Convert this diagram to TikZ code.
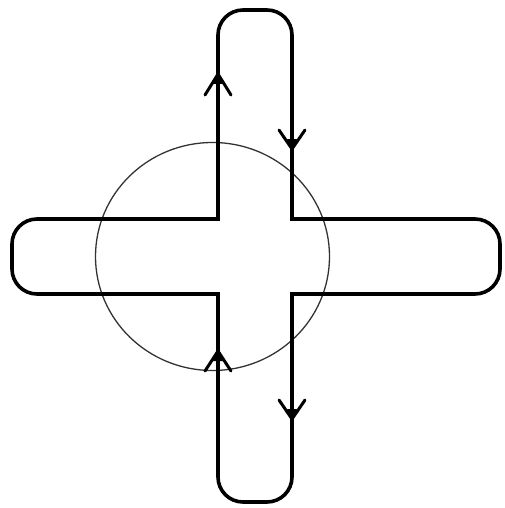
\documentclass[tikz,border=0pt]{standalone}
\begin{document}
\begin{tikzpicture}[x=1pt,y=-1pt,
  contour/.style={line width=3.6pt, rounded corners=25pt, line cap=rect, line join=miter},
  headline/.style={line width=3pt, line join=miter, line cap=round},
  ring/.style={line width=1.3pt, black!80}]
\useasboundingbox (0,0) rectangle (505,508);
% named corner points
\coordinate (c1) at (218,219);
\coordinate (c2) at (292,219);
\coordinate (c3) at (292,294);
\coordinate (c4) at (218,294);
% circle
\draw[ring] (212.5,256.5) ellipse [x radius=117, y radius=114];
% arms
\draw[contour] (c1) -- (218,10) -- (292,10) -- (c2);
\draw[contour] (c2) -- (500,219) -- (500,294) -- (c3);
\draw[contour] (c3) -- (292,502) -- (218,502) -- (c4);
\draw[contour] (c4) -- (12,294) -- (12,219) -- (c1);
% arrowheads
\draw[headline] (205,95) -- (218,74) -- (231,95);
\fill (213,84) -- (218,74) -- (223,84) -- cycle;
\draw[headline] (279,130) -- (292,149) -- (305,130);
\fill (287,139) -- (292,149) -- (297,139) -- cycle;
\draw[headline] (205,371) -- (218,351) -- (231,371);
\fill (213,361) -- (218,351) -- (223,361) -- cycle;
\draw[headline] (279,400) -- (292,419) -- (305,400);
\fill (287,409) -- (292,419) -- (297,409) -- cycle;
\end{tikzpicture}
\end{document}
